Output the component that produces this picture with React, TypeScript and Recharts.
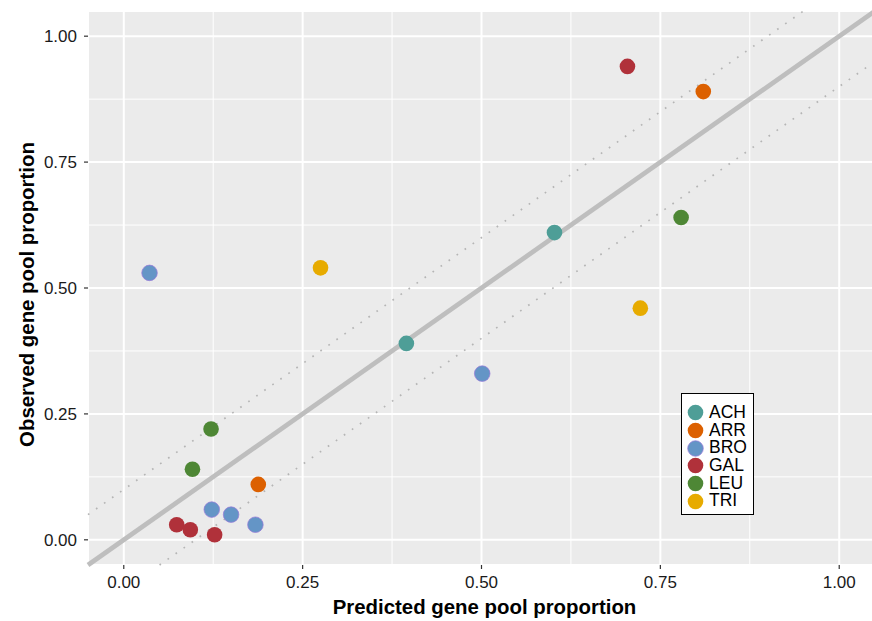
import React from 'react';
import {
  ScatterChart,
  Scatter,
  XAxis,
  YAxis,
  CartesianGrid,
  ReferenceLine,
  Label,
} from 'recharts';

// ---- data ----
const groups = ['ACH', 'ARR', 'BRO', 'GAL', 'LEU', 'TRI'];
const groupColors = ['#4E9E97', '#DC6000', '#6495C6', '#B0313A', '#4E8735', '#E7AB00'];
const groupStrokes = ['none', 'none', '#9A78DA', 'none', 'none', 'none'];

const ACH = [
  { x: 0.602, y: 0.61 },
  { x: 0.395, y: 0.39 },
];
const ARR = [
  { x: 0.81, y: 0.89 },
  { x: 0.188, y: 0.11 },
];
const BRO = [
  { x: 0.036, y: 0.53 },
  { x: 0.501, y: 0.33 },
  { x: 0.123, y: 0.06 },
  { x: 0.15, y: 0.05 },
  { x: 0.184, y: 0.03 },
];
const GAL = [
  { x: 0.704, y: 0.94 },
  { x: 0.074, y: 0.03 },
  { x: 0.093, y: 0.02 },
  { x: 0.127, y: 0.01 },
];
const LEU = [
  { x: 0.779, y: 0.64 },
  { x: 0.122, y: 0.22 },
  { x: 0.096, y: 0.14 },
];
const TRI = [
  { x: 0.275, y: 0.54 },
  { x: 0.722, y: 0.46 },
];
const seriesData = [ACH, ARR, BRO, GAL, LEU, TRI];

const majorTicks = [0, 0.25, 0.5, 0.75, 1];
const minorTicks = [0.125, 0.375, 0.625, 0.875];
const axisDomain: [number, number] = [-0.05, 1.05];
const bandOffset = 0.1;

const xTitle = 'Predicted gene pool proportion';
const yTitle = 'Observed gene pool proportion';

const FONT = '"Liberation Sans", Arial, Helvetica, sans-serif';

const makeDot = (fill: string, stroke: string) => (props: any) => (
  <circle cx={props.cx} cy={props.cy} r={7.8} fill={fill} stroke={stroke} strokeWidth={stroke === 'none' ? 0 : 0.7} />
);

const LegendBox = () => (
  <div
    style={{
      position: 'absolute',
      left: 681,
      top: 393,
      border: '1px solid #000',
      background: '#fff',
      padding: '10px 8px 4px 5px',
      fontFamily: FONT,
      fontSize: 17.5,
      color: '#000',
      width: 58,
    }}
  >
    {groups.map((g, i) => (
      <div key={g} style={{ display: 'flex', alignItems: 'center', height: 17.7 }}>
        <svg width={17} height={17} style={{ display: 'block', flex: 'none' }}>
          <circle cx={8.5} cy={8.5} r={7.8} fill={groupColors[i]} stroke={groupStrokes[i]} strokeWidth={groupStrokes[i] === 'none' ? 0 : 0.7} />
        </svg>
        <span style={{ marginLeft: 5, lineHeight: '17.7px' }}>{g}</span>
      </div>
    ))}
  </div>
);

const XTitle = () => (
  <text x={484.5} y={614} textAnchor="middle" fontFamily={FONT} fontSize={20.4} fontWeight="bold" fill="#000">
    {xTitle}
  </text>
);

const YTitle = () => (
  <text
    x={26.5}
    y={294.5}
    transform="rotate(-90 26.5 294.5)"
    textAnchor="middle"
    dy="0.355em"
    fontFamily={FONT}
    fontSize={20.4}
    fontWeight="bold"
    fill="#000"
  >
    {yTitle}
  </text>
);

export default function App() {
  return (
    <div style={{ position: 'absolute', left: 0, top: 0, width: 872, height: 621, overflow: 'hidden', background: '#fff' }}>
      <ScatterChart width={875} height={621} margin={{ top: 11, right: 0, bottom: 0, left: 0 }}>
        <CartesianGrid fill="#EBEBEB" stroke="#FFFFFF" strokeWidth={2} />
        <CartesianGrid
          stroke="#FFFFFF"
          strokeWidth={1}
          horizontalValues={minorTicks}
          verticalValues={minorTicks}
        />
        <XAxis
          type="number"
          dataKey="x"
          domain={axisDomain}
          allowDataOverflow
          ticks={majorTicks}
          tickFormatter={(v: number) => v.toFixed(2)}
          axisLine={false}
          tickLine={{ stroke: '#333333', strokeWidth: 1.2 }}
          tickSize={4}
          tickMargin={7}
          height={56}
          tick={{ fontSize: 17, fill: '#1a1a1a', fontFamily: FONT }}
          interval={0}
        >
          <Label content={XTitle} />
        </XAxis>
        <YAxis
          type="number"
          dataKey="y"
          domain={axisDomain}
          allowDataOverflow
          ticks={majorTicks}
          tickFormatter={(v: number) => v.toFixed(2)}
          axisLine={false}
          tickLine={{ stroke: '#333333', strokeWidth: 1.2 }}
          tickSize={4}
          tickMargin={7}
          width={88}
          tick={{ fontSize: 17, fill: '#1a1a1a', fontFamily: FONT }}
          interval={0}
        >
          <Label content={YTitle} />
        </YAxis>
        <ReferenceLine
          segment={[
            { x: axisDomain[0], y: axisDomain[0] + bandOffset },
            { x: axisDomain[1] - bandOffset, y: axisDomain[1] },
          ]}
          stroke="#B5B5B5"
          strokeWidth={1.7}
          strokeDasharray="1.7 8.1"
          ifOverflow="visible"
        />
        <ReferenceLine
          segment={[
            { x: axisDomain[0] + bandOffset, y: axisDomain[0] },
            { x: axisDomain[1], y: axisDomain[1] - bandOffset },
          ]}
          stroke="#B5B5B5"
          strokeWidth={1.7}
          strokeDasharray="1.7 8.1"
          ifOverflow="visible"
        />
        <ReferenceLine
          segment={[
            { x: axisDomain[0], y: axisDomain[0] },
            { x: axisDomain[1], y: axisDomain[1] },
          ]}
          stroke="#BEBEBE"
          strokeWidth={4.7}
          ifOverflow="visible"
        />
        {groups.map((g, i) => (
          <Scatter
            key={g}
            name={g}
            data={seriesData[i]}
            fill={groupColors[i]}
            shape={makeDot(groupColors[i], groupStrokes[i])}
            isAnimationActive={false}
          />
        ))}
      </ScatterChart>
      <LegendBox />
    </div>
  );
}
